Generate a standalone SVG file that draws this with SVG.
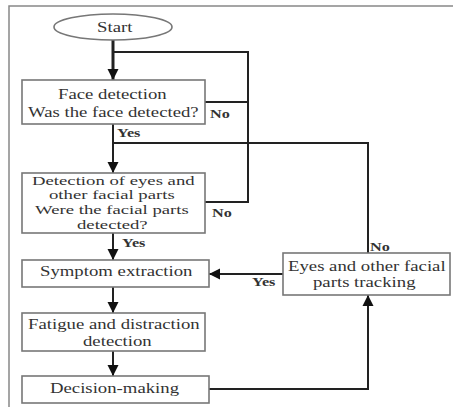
<svg xmlns="http://www.w3.org/2000/svg" width="453" height="407" viewBox="0 0 453 407">
<defs>
<marker id="ah" markerUnits="userSpaceOnUse" markerWidth="12" markerHeight="12" viewBox="0 0 12 12" refX="11" refY="6" orient="auto">
<path d="M0,0.5 L11,6 L0,11.5 Z" fill="#111"/>
</marker>
</defs>
<style>
.box{fill:#fff;stroke:#777;stroke-width:1.6}
.c{fill:none;stroke:#222;stroke-width:2}
.ca{fill:none;stroke:#222;stroke-width:2;marker-end:url(#ah)}
</style>
<rect width="453" height="407" fill="#fff"/>
<path d="M9,407 V6 H453" fill="none" stroke="#888" stroke-width="1.5"/>
<g id="connectors">
<path class="ca" d="M113,40 V80" style="stroke-width:3"/>
<path class="c" d="M113,52 H248 V202 H205"/>
<path class="c" d="M205,102 H248"/>
<path class="ca" d="M113,124 V173"/>
<path class="c" d="M113,143 H368 V253"/>
<path class="ca" d="M113,233 V260"/>
<path class="ca" d="M283,274 H209"/>
<path class="ca" d="M113,287 V313"/>
<path class="ca" d="M113,351 V376"/>
<path class="ca" d="M209,389 H368 V295"/>
<g font-family="Liberation Serif, serif" font-size="13.5" font-weight="bold" fill="#333">
<text transform="translate(210,117.5) scale(1.2,1)">No</text>
<text transform="translate(117,137) scale(1.2,1)">Yes</text>
<text transform="translate(212,216.5) scale(1.2,1)">No</text>
<text transform="translate(122,246.5) scale(1.2,1)">Yes</text>
<text transform="translate(370,251) scale(1.2,1)">No</text>
<text transform="translate(252,286) scale(1.2,1)">Yes</text>
</g>
</g>
<g font-family="Liberation Serif, serif" font-size="15" fill="#333">
<g id="start">
<ellipse cx="113" cy="27" rx="59" ry="13" fill="#fff" stroke="#777" stroke-width="1.6"/>
<text transform="translate(97,31.5) scale(1.25,1)">Start</text>
</g>
<g id="face">
<rect class="box" x="22" y="80" width="183" height="44"/>
<text transform="translate(58,98.5) scale(1.25,1)">Face detection</text>
<text transform="translate(28,116.5) scale(1.25,1)">Was the face detected?</text>
</g>
<g id="parts" font-size="13">
<rect class="box" x="22" y="173" width="183" height="60"/>
<text transform="translate(32,184.5) scale(1.44,1)">Detection of eyes and</text>
<text transform="translate(49,199) scale(1.44,1)">other facial parts</text>
<text transform="translate(35,214) scale(1.44,1)">Were the facial parts</text>
<text transform="translate(77,229) scale(1.44,1)">detected?</text>
</g>
<g id="symptom">
<rect class="box" x="22" y="260" width="187" height="27"/>
<text transform="translate(40,276) scale(1.25,1)">Symptom extraction</text>
</g>
<g id="tracking">
<rect class="box" x="283" y="253" width="167" height="42"/>
<text transform="translate(288,270.5) scale(1.25,1)">Eyes and other facial</text>
<text transform="translate(313,286.5) scale(1.25,1)">parts tracking</text>
</g>
<g id="fatigue">
<rect class="box" x="22" y="313" width="183" height="38"/>
<text transform="translate(28,328.5) scale(1.25,1)">Fatigue and distraction</text>
<text transform="translate(83,345.5) scale(1.25,1)">detection</text>
</g>
<g id="decision">
<rect class="box" x="22" y="376" width="187" height="27"/>
<text transform="translate(50,392.5) scale(1.25,1)">Decision-making</text>
</g>
</g>
</svg>
